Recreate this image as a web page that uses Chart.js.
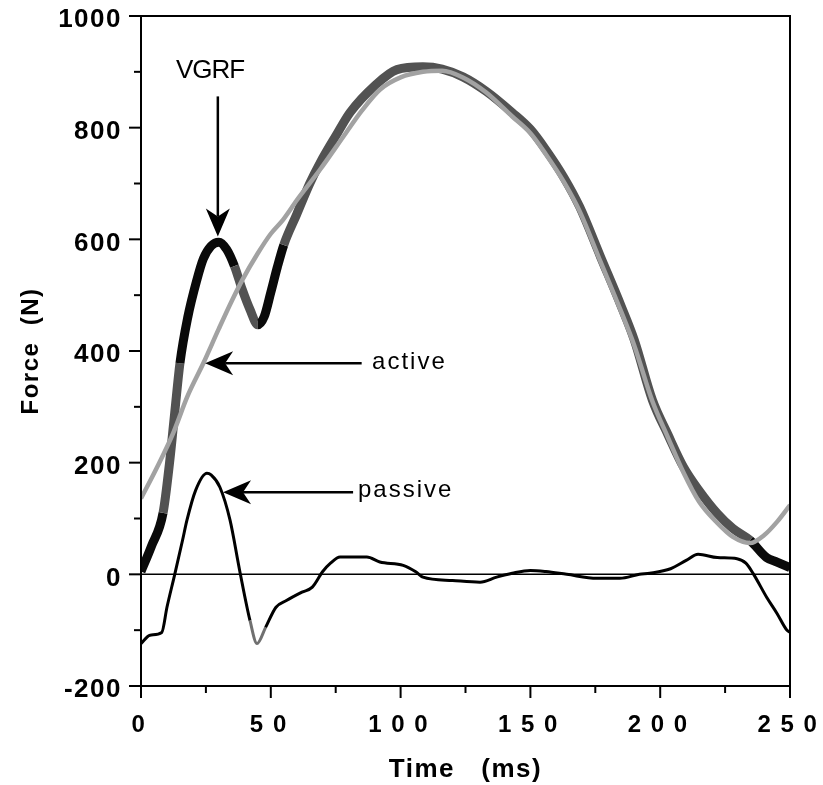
<!DOCTYPE html>
<html>
<head>
<meta charset="utf-8">
<script src="https://cdn.jsdelivr.net/npm/chart.js@4.4.1/dist/chart.umd.min.js"></script>
<style>
  body { margin: 0; background: #fff; }
  #wrap { width: 823px; height: 785px; }
</style>
</head>
<body>
<div id="wrap"><canvas id="forceChart" width="823" height="785"></canvas></div>
<script>
// Ground reaction force traces (time in ms, force in N)
const vgrfTime  = [0, 4, 8.5, 11, 13, 15, 18, 21.5, 24, 27, 30, 33, 36, 39, 42, 45, 47.5, 50, 52.5, 55,
                   60, 65, 69, 75, 80.5, 90, 98.6, 108.6, 116, 124, 133, 143, 150, 156, 163, 169, 177,
                   185, 190, 197, 203, 209, 215, 222, 228, 234.6, 241, 245, 250];
const vgrfForce = [5, 50, 110, 200, 290, 378, 460, 527, 565, 588, 595, 582, 552, 510, 474, 447, 462, 505, 550, 590,
                   645, 700, 737, 785, 827, 875, 904, 909, 905, 891, 865, 827, 797, 760, 710, 658, 569,
                   480, 420, 312, 250, 192, 150, 109, 82, 61, 30, 22, 12];

const activeTime  = [0, 6, 12.4, 18, 24, 30, 35, 39, 45, 50, 54.7, 60, 69, 79, 85, 92, 100, 108.6, 116, 124,
                     133, 143, 150, 156, 163, 169, 177, 185, 190, 197, 203, 209, 215, 222, 228, 234.6, 240, 245, 250];
const activeForce = [136, 190, 253, 320, 378, 440, 490, 527, 575, 610, 635, 670, 725, 791, 830, 868, 890, 900, 902, 890,
                     863, 820, 790, 752, 702, 650, 560, 470, 410, 310, 245, 182, 130, 92, 67, 56, 70, 94, 124];

const passiveTime  = [0, 3.5, 8, 10, 13, 16, 17.7, 21, 25.4, 27, 30.4, 34.3, 38, 42, 44.7, 48, 52, 56, 62, 66,
                      70, 73, 76.7, 87, 92, 101, 106, 108.6, 120, 130.6, 137, 143, 150, 156, 164, 175.6, 184.5,
                      192, 196, 204, 210, 214.6, 222, 229.6, 233, 236, 241, 245, 248.8, 250];
const passiveForce = [-124, -109, -104, -59, 0, 61, 97, 150, 181, 178, 156, 97, 7, -83, -124, -95, -59, -47, -32, -23,
                      5, 20, 31, 31, 22, 16, 4, -5, -11, -14, -5, 2, 7, 5, 0, -7, -7,
                      0, 2, 10, 25, 36, 30, 28, 20, 0, -41, -70, -100, -104];

const forceTicks = [-200, 0, 200, 400, 600, 800, 1000];
const timeTicks  = [0, 50, 100, 150, 200, 250];

const toPoints = (xs, ys) => xs.map((x, i) => ({ x: x, y: ys[i] }));

// the thick VGRF trace comes out black in some stretches, dark grey elsewhere
function vgrfColor(ctx) {
    const t = ctx.p0.parsed.x;
    if (t < 8.5 || (t >= 15 && t < 35) || (t >= 43 && t < 55) || t >= 231) return '#0a0a0a';
    return '#525252';
}
function passiveColor(ctx) {
    const t = ctx.p0.parsed.x;
    return (t >= 42 && t < 48) ? '#707070' : '#000';
}

const sansFont = "'Liberation Sans', Arial, Helvetica, sans-serif";

function drawArrow(ctx, x0, y0, x1, y1) {
    const ang = Math.atan2(y1 - y0, x1 - x0);
    const len = 28, half = 12, notch = 20;
    const c = Math.cos(ang), s = Math.sin(ang);
    ctx.beginPath();
    ctx.moveTo(x0, y0);
    ctx.lineTo(x1 - c * notch, y1 - s * notch);
    ctx.stroke();
    ctx.beginPath();
    ctx.moveTo(x1, y1);
    ctx.lineTo(x1 - c * len + s * half, y1 - s * len - c * half);
    ctx.lineTo(x1 - c * notch, y1 - s * notch);
    ctx.lineTo(x1 - c * len - s * half, y1 - s * len + c * half);
    ctx.closePath();
    ctx.fill();
}

// old plotting software spread its letters out a little
const trackingPlugin = {
    id: 'tracking',
    beforeUpdate(chart) { chart.ctx.letterSpacing = '1.5px'; },
    beforeDraw(chart) { chart.ctx.letterSpacing = '1.5px'; }
};

const framePlugin = {
    id: 'frame',
    beforeDatasetsDraw(chart) {
        const { ctx, chartArea: a, scales: { y } } = chart;
        ctx.save();
        ctx.strokeStyle = '#000';
        ctx.lineWidth = 1.5;
        ctx.beginPath();
        ctx.moveTo(a.left, y.getPixelForValue(0));
        ctx.lineTo(a.right, y.getPixelForValue(0));
        ctx.stroke();
        ctx.restore();
    },
    afterDraw(chart) {
        const { ctx, chartArea: a, scales: { x, y } } = chart;
        ctx.save();
        ctx.strokeStyle = '#000';
        ctx.fillStyle = '#000';
        ctx.lineWidth = 2;
        ctx.strokeRect(a.left, a.top, a.right - a.left, a.bottom - a.top);

        // major + minor tick marks, pointing outwards
        for (let v = -200; v <= 1000; v += 100) {
            const py = y.getPixelForValue(v);
            const len = v % 200 === 0 ? 12 : 7;
            ctx.beginPath();
            ctx.moveTo(a.left - len, py);
            ctx.lineTo(a.left, py);
            ctx.stroke();
        }
        for (let v = 0; v <= 250; v += 25) {
            const px = x.getPixelForValue(v);
            const len = v % 50 === 0 ? 12 : 7;
            ctx.beginPath();
            ctx.moveTo(px, a.bottom);
            ctx.lineTo(px, a.bottom + len);
            ctx.stroke();
        }

        // annotations
        ctx.lineWidth = 2.5;
        ctx.textBaseline = 'middle';
        ctx.textAlign = 'center';
        ctx.letterSpacing = '-1px';
        ctx.font = "26px " + sansFont;
        ctx.fillText('VGRF', x.getPixelForValue(26.6), y.getPixelForValue(902));
        drawArrow(ctx, x.getPixelForValue(29.6), y.getPixelForValue(856),
                  x.getPixelForValue(29.6), y.getPixelForValue(605));

        ctx.textAlign = 'left';
        ctx.letterSpacing = '2px';
        ctx.font = "24px " + sansFont;
        ctx.fillText('active', x.getPixelForValue(89), y.getPixelForValue(380));
        drawArrow(ctx, x.getPixelForValue(85), y.getPixelForValue(378),
                  x.getPixelForValue(24.7), y.getPixelForValue(378));

        ctx.fillText('passive', x.getPixelForValue(83.6), y.getPixelForValue(150));
        drawArrow(ctx, x.getPixelForValue(81.7), y.getPixelForValue(147),
                  x.getPixelForValue(31.6), y.getPixelForValue(147));
        ctx.restore();
    }
};

const config = {
    type: 'line',
    data: {
        datasets: [{
            label: 'passive',
            data: toPoints(passiveTime, passiveForce),
            borderColor: '#000',
            segment: { borderColor: passiveColor },
            borderWidth: 3,
            pointRadius: 0,
            cubicInterpolationMode: 'monotone',
            order: 1
        }, {
            label: 'active',
            data: toPoints(activeTime, activeForce),
            borderColor: '#a2a2a2',
            borderWidth: 4.5,
            pointRadius: 0,
            cubicInterpolationMode: 'monotone',
            order: 2
        }, {
            label: 'VGRF',
            data: toPoints(vgrfTime, vgrfForce),
            borderColor: '#525252',
            segment: { borderColor: vgrfColor },
            borderWidth: 9,
            pointRadius: 0,
            cubicInterpolationMode: 'monotone',
            order: 3
        }]
    },
    options: {
        responsive: false,
        animation: false,
        events: [],
        layout: { padding: { left: 0, right: 33, top: 16, bottom: 0 } },
        plugins: {
            legend: { display: false },
            tooltip: { enabled: false }
        },
        scales: {
            x: {
                type: 'linear',
                min: 0,
                max: 250,
                afterBuildTicks: (s) => { s.ticks = timeTicks.map(v => ({ value: v })); },
                afterFit: (s) => { s.height = 99; s.paddingLeft = 0; s.paddingRight = 0; },
                border: { display: false },
                grid: { display: false, drawTicks: false },
                ticks: {
                    color: '#000',
                    padding: 25,
                    labelOffset: -2,
                    maxRotation: 0,
                    font: { family: sansFont, size: 24, weight: 'bold' },
                    callback: (v) => String(v).split('').join(' ')
                },
                title: {
                    display: true,
                    text: 'Time   (ms)',
                    color: '#000',
                    font: { family: sansFont, size: 26, weight: 'bold' },
                    padding: { top: 0, bottom: 0 }
                }
            },
            y: {
                min: -200,
                max: 1000,
                afterBuildTicks: (s) => { s.ticks = forceTicks.map(v => ({ value: v })); },
                afterFit: (s) => { s.width = 141; s.paddingTop = 0; s.paddingBottom = 0; },
                border: { display: false },
                grid: { display: false, drawTicks: false },
                ticks: {
                    color: '#000',
                    padding: 19,
                    labelOffset: 4,
                    font: { family: sansFont, size: 26, weight: 'bold' },
                    callback: (v) => String(v)
                },
                title: {
                    display: true,
                    text: 'Force  (N)',
                    color: '#000',
                    font: { family: sansFont, size: 24, weight: 'bold' },
                    padding: { top: 17, bottom: 0 }
                }
            }
        }
    },
    plugins: [trackingPlugin, framePlugin]
};

new Chart(document.getElementById('forceChart'), config);
</script>
</body>
</html>
